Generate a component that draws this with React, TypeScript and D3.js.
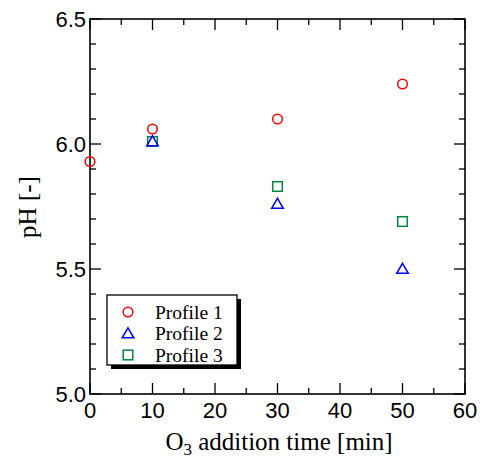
import React, { useEffect, useRef } from "react";
import * as d3 from "d3";

// O3 addition time [min] and pH readings per profile
const times1 = [0, 10, 30, 50];
const ph1 = [5.93, 6.06, 6.1, 6.24];
const times2 = [10, 30, 50];
const ph2 = [6.01, 5.76, 5.5];
const times3 = [10, 30, 50];
const ph3 = [6.01, 5.83, 5.69];

const profileNames = ["Profile 1", "Profile 2", "Profile 3"];
const profileColors = ["#ff0000", "#0000ff", "#00883f"];
const profileShapes = ["circle", "triangle", "square"];

const xTicks = [0, 10, 20, 30, 40, 50, 60];
const yTicks = [5.0, 5.5, 6.0, 6.5];

export default function App() {
  const svgRef = useRef<SVGSVGElement>(null);

  useEffect(() => {
    const svg = d3.select(svgRef.current);
    svg.selectAll("*").remove();

    const width = 486;
    const height = 459;
    const margin = { top: 19, right: 21, bottom: 65, left: 90 };
    const x0 = margin.left;
    const x1 = width - margin.right;
    const y0 = height - margin.bottom;
    const y1 = margin.top;

    const x = d3.scaleLinear().domain([0, 60]).range([x0, x1]);
    const y = d3.scaleLinear().domain([5.0, 6.5]).range([y0, y1]);

    const sans = "'Liberation Sans', Arial, sans-serif";
    const serif = "'Liberation Serif', 'Times New Roman', serif";

    // frame
    svg
      .append("rect")
      .attr("x", x0)
      .attr("y", y1)
      .attr("width", x1 - x0)
      .attr("height", y0 - y1)
      .attr("fill", "none")
      .attr("stroke", "#000")
      .attr("stroke-width", 1.6);

    const ticks = svg.append("g").attr("stroke", "#000").attr("stroke-width", 1.3);

    // x ticks (bottom and top, inward)
    d3.range(0, 61, 5).forEach((v) => {
      const len = v % 10 === 0 ? 11 : 6;
      ticks.append("line").attr("x1", x(v)).attr("x2", x(v)).attr("y1", y0).attr("y2", y0 - len);
      ticks.append("line").attr("x1", x(v)).attr("x2", x(v)).attr("y1", y1).attr("y2", y1 + len);
    });
    // y ticks (left and right, inward)
    d3.range(0, 16).forEach((i) => {
      const v = 5.0 + i * 0.1;
      const len = i % 5 === 0 ? 11 : 6;
      ticks.append("line").attr("x1", x0).attr("x2", x0 + len).attr("y1", y(v)).attr("y2", y(v));
      ticks.append("line").attr("x1", x1).attr("x2", x1 - len).attr("y1", y(v)).attr("y2", y(v));
    });

    // tick labels
    svg
      .append("g")
      .selectAll("text")
      .data(xTicks)
      .enter()
      .append("text")
      .attr("x", (d) => x(d))
      .attr("y", y0 + 24)
      .attr("text-anchor", "middle")
      .attr("font-family", sans)
      .attr("font-size", 22)
      .text((d) => d);

    svg
      .append("g")
      .selectAll("text")
      .data(yTicks)
      .enter()
      .append("text")
      .attr("x", x0 - 4)
      .attr("y", (d) => y(d) + 7.5)
      .attr("text-anchor", "end")
      .attr("font-family", sans)
      .attr("font-size", 22)
      .text((d) => d.toFixed(1));

    // axis titles
    const xl = svg
      .append("text")
      .attr("x", 279)
      .attr("y", 450)
      .attr("text-anchor", "middle")
      .attr("font-family", serif)
      .attr("font-size", 25);
    xl.append("tspan").text("O");
    xl.append("tspan").attr("font-size", 17).attr("dy", 5).text("3");
    xl.append("tspan").attr("dy", -5).text(" addition time [min]");

    svg
      .append("text")
      .attr("transform", "translate(36,207) rotate(-90)")
      .attr("text-anchor", "middle")
      .attr("font-family", serif)
      .attr("font-size", 25)
      .text("pH [-]");

    const drawMarker = (g: any, shape: string, cx: number, cy: number, color: string) => {
      if (shape === "circle") {
        g.append("circle")
          .attr("cx", cx)
          .attr("cy", cy)
          .attr("r", 4.8)
          .attr("fill", "none")
          .attr("stroke", color)
          .attr("stroke-width", 1.5);
      } else if (shape === "square") {
        g.append("rect")
          .attr("x", cx - 4.8)
          .attr("y", cy - 4.8)
          .attr("width", 9.6)
          .attr("height", 9.6)
          .attr("fill", "none")
          .attr("stroke", color)
          .attr("stroke-width", 1.5);
      } else {
        const s = d3.symbol().type(d3.symbolTriangle).size(58)();
        g.append("path")
          .attr("d", s)
          .attr("transform", `translate(${cx},${cy + 1})`)
          .attr("fill", "none")
          .attr("stroke", color)
          .attr("stroke-width", 1.5);
      }
    };

    const series = [
      { t: times1, v: ph1 },
      { t: times2, v: ph2 },
      { t: times3, v: ph3 },
    ];

    // draw profile 3 first so circles/triangles stay on top as in the reference
    const pts = svg.append("g");
    [2, 1, 0].forEach((k) => {
      series[k].t.forEach((t, i) => {
        drawMarker(pts, profileShapes[k], x(t), y(series[k].v[i]), profileColors[k]);
      });
    });

    // legend with drop shadow
    const lg = svg.append("g");
    const lx = 107;
    const ly = 295;
    const lw = 130;
    const lh = 70;
    lg.append("rect").attr("x", lx + 4).attr("y", ly + 4).attr("width", lw).attr("height", lh).attr("fill", "#000");
    lg.append("rect")
      .attr("x", lx)
      .attr("y", ly)
      .attr("width", lw)
      .attr("height", lh)
      .attr("fill", "#fff")
      .attr("stroke", "#000")
      .attr("stroke-width", 1.3);
    profileNames.forEach((name, k) => {
      const cy = ly + 17 + k * 21.5;
      drawMarker(lg, profileShapes[k], 128, cy, profileColors[k]);
      lg.append("text")
        .attr("x", 155)
        .attr("y", cy + 6.5)
        .attr("font-family", serif)
        .attr("font-size", 19.5)
        .text(name);
    });
  }, []);

  return (
    <svg
      ref={svgRef}
      width={486}
      height={459}
      style={{ position: "absolute", left: 0, top: 0, background: "#fff" }}
    />
  );
}
